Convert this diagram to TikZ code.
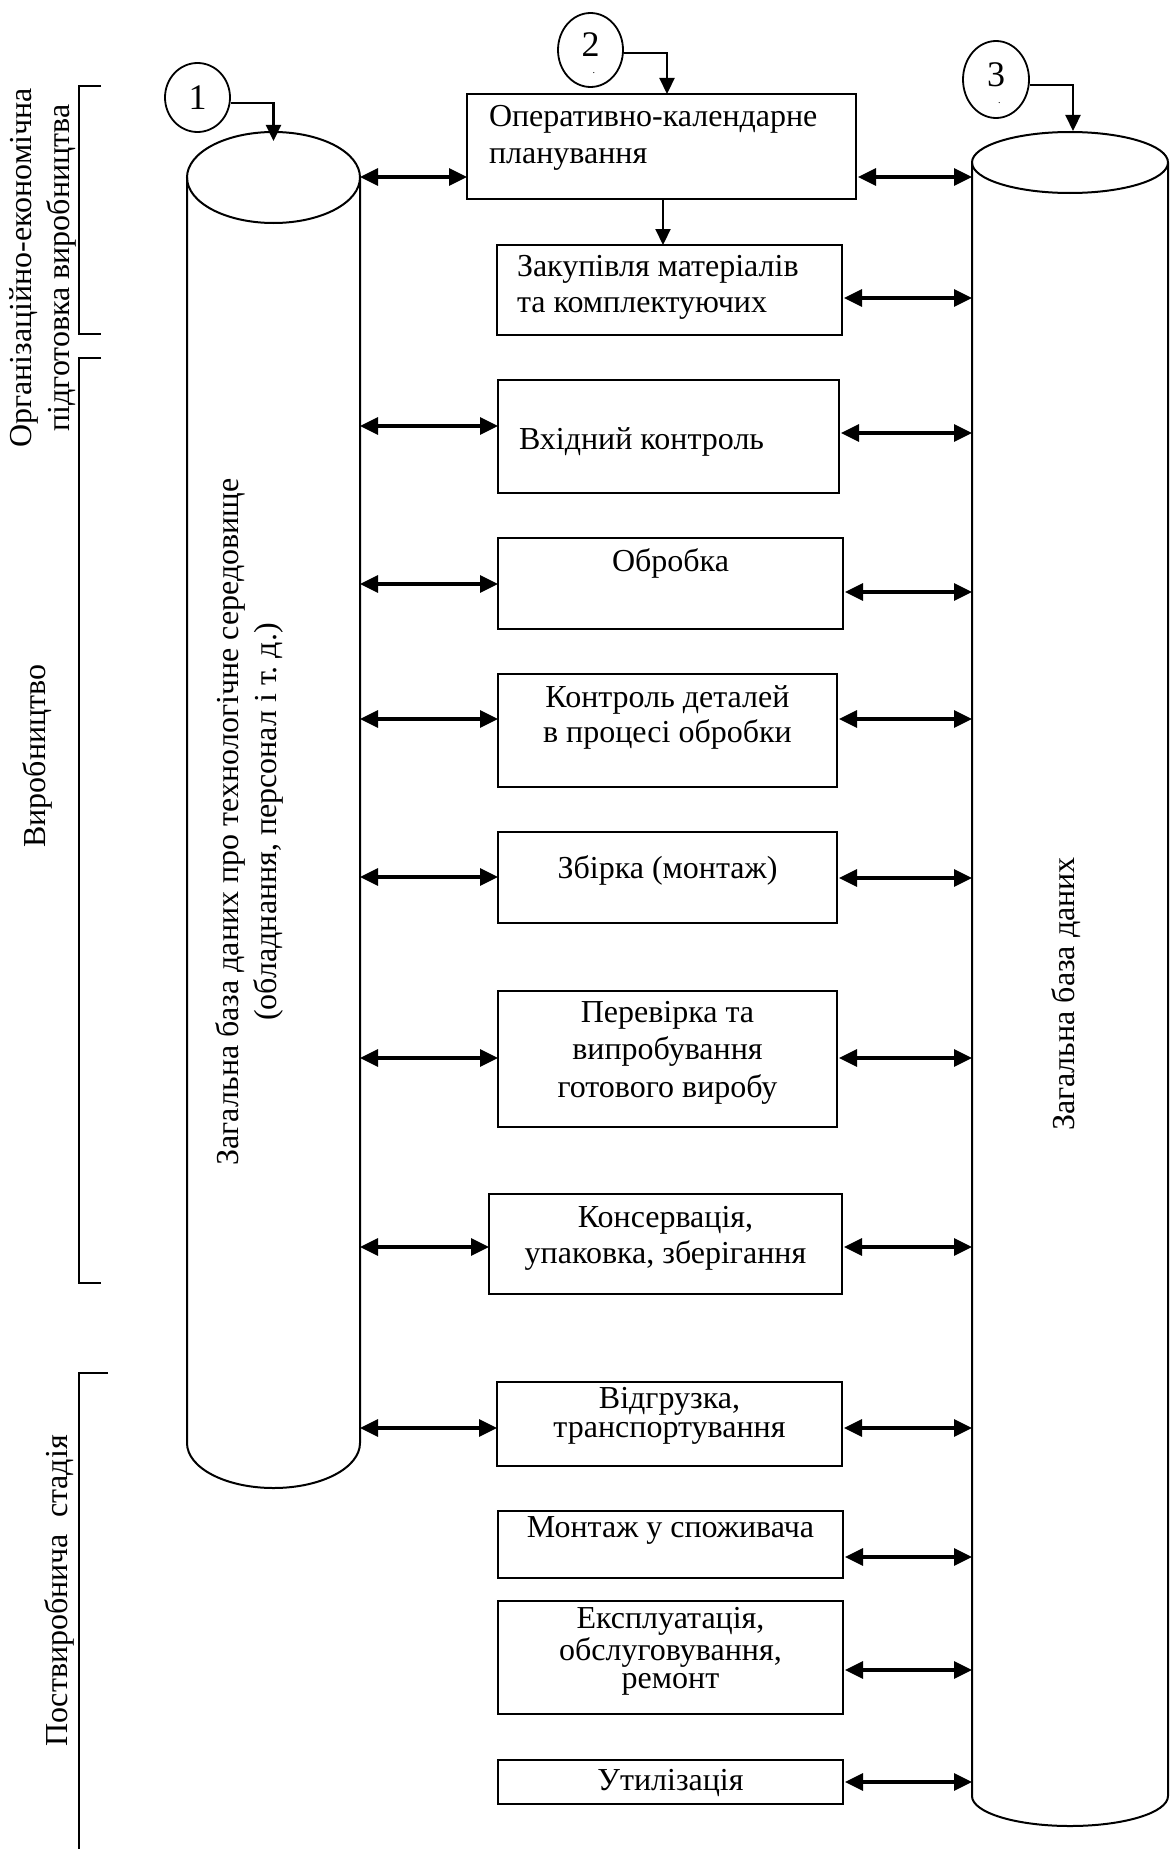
\documentclass[tikz,border=0pt]{standalone}
\usepackage{fontspec}
\setmainfont{Liberation Serif}
\usetikzlibrary{arrows.meta,shapes.geometric}
\frenchspacing

% width, height, gap above the first line, baselineskip, content
\newcommand{\cellbox}[5]{%
  \parbox[c][#2][t]{#1}{\fontsize{32}{#4}\selectfont\vspace*{#3}#5}}

\tikzset{
  procbox/.style={draw, line width=2.2pt, inner sep=0pt, outer sep=0pt, anchor=north west},
  circ/.style={draw, ellipse, line width=1.8pt, inner sep=0pt, font=\fontsize{36}{40}\selectfont},
  cyl/.style={line width=2pt},
  brk/.style={line width=2pt},
  lbl/.style={inner sep=0pt, font=\fontsize{32}{38}\selectfont},
  dbl/.style={line width=3.2pt, {Triangle[length=18pt,width=17pt]}-{Triangle[length=18pt,width=17pt]}},
  arr/.style={line width=2.2pt, -{Triangle[length=16pt,width=15pt]}},
}

\begin{document}
\begin{tikzpicture}[x=1pt,y=1pt]
\useasboundingbox (0,0) rectangle (1170,-1849);

% left database cylinder
\draw[cyl] (273.5,-177.5) ellipse [x radius=86.5pt, y radius=45.5pt];
\draw[cyl] (187,-177.5) -- (187,-1443)
  arc[start angle=180, end angle=360, x radius=86.5pt, y radius=45pt] -- (360,-177.5);
\coordinate (c1R) at (360,-177.5);
\coordinate (t1) at (273.5,-141);

% right database cylinder
\draw[cyl] (1070,-162.5) ellipse [x radius=98pt, y radius=30.5pt];
\draw[cyl] (972,-162.5) -- (972,-1796)
  arc[start angle=180, end angle=360, x radius=98pt, y radius=30pt] -- (1168,-162.5);
\coordinate (c3L) at (972,-162.5);
\coordinate (t3) at (1073,-131);

% stage brackets
\draw[brk] (101,-86) -- (79,-86) -- (79,-334) -- (101,-334);
\draw[brk] (101,-358) -- (79,-358) -- (79,-1283) -- (101,-1283);
\draw[brk] (108,-1373) -- (79,-1373) -- (79,-1849);

% stage labels
\node[lbl, rotate=90, align=center] (stage1) at (43,-268)
  {Організаційно-економічна\\підготовка виробництва};
\node[lbl, rotate=90] (stage2) at (37,-756) {Виробництво};
\node[lbl, rotate=90] (stage3) at (59,-1591) {Поствиробнича~~стадія};

% database captions
\node[lbl, rotate=90, align=center] (db1) at (249,-822)
  {Загальна база даних про технологічне середовище\\(обладнання, персонал і т. д.)};
\node[lbl, rotate=90] (db3) at (1066,-994) {Загальна база даних};

% numbered markers
\node[circ, minimum width=65pt, minimum height=69pt] (n1) at (197.5,-97.5) {1};
\node[circ, minimum width=65pt, minimum height=74pt, text depth=10pt] (n2) at (590.5,-50)
  {2\rlap{\hspace*{-7pt}\smash{\raisebox{-17pt}{\fontsize{10}{10}\selectfont .}}}};
\node[circ, minimum width=66pt, minimum height=77pt, text depth=9pt] (n3) at (996,-79.5)
  {3\rlap{\hspace*{-7pt}\smash{\raisebox{-17pt}{\fontsize{10}{10}\selectfont .}}}};

% process boxes
\node[procbox] (b1) at (467,-94) {\cellbox{389pt}{105pt}{7.8pt}{36pt}%
  {\raggedright\hspace*{22pt}\strut Оперативно-календарне\\\hspace*{22pt}\strut планування}};
\node[procbox] (b2) at (497,-245) {\cellbox{345pt}{90pt}{5.8pt}{36pt}%
  {\raggedright\hspace*{20pt}\strut Закупівля матеріалів\\\hspace*{20pt}\strut та комплектуючих}};
\node[procbox] (b3) at (498,-380) {\cellbox{341pt}{113pt}{43.8pt}{36pt}%
  {\raggedright\hspace*{21pt}\strut Вхідний контроль}};
\node[procbox] (b4) at (498,-538) {\cellbox{345pt}{91pt}{7.8pt}{36pt}%
  {\centering\strut Обробка}};
\node[procbox] (b5) at (498,-674) {\cellbox{339pt}{113pt}{8.5pt}{35pt}%
  {\centering\strut Контроль деталей\\\strut в процесі обробки}};
\node[procbox] (b6) at (498,-832) {\cellbox{339pt}{91pt}{20.8pt}{36pt}%
  {\centering\strut Збірка (монтаж)}};
\node[procbox] (b7) at (498,-991) {\cellbox{339pt}{136pt}{4.75pt}{37.5pt}%
  {\centering\strut Перевірка та\\\strut випробування\\\strut готового виробу}};
\node[procbox] (b8) at (489,-1194) {\cellbox{353pt}{100pt}{7.8pt}{36pt}%
  {\centering\strut Консервація,\\\strut упаковка, зберігання}};
\node[procbox] (b9) at (497,-1382) {\cellbox{345pt}{84pt}{4.8pt}{29pt}%
  {\centering\strut Відгрузка,\\\strut транспортування}};
\node[procbox] (b10) at (498,-1511) {\cellbox{345pt}{67pt}{0.8pt}{36pt}%
  {\centering\strut Монтаж у споживача}};
\node[procbox] (b11) at (498,-1601) {\cellbox{345pt}{113pt}{5.8pt}{28.5pt}%
  {\centering\strut Експлуатація,\\\strut обслуговування,\\\strut ремонт}};
\node[procbox] (b12) at (498,-1760) {\cellbox{345pt}{44pt}{4.8pt}{36pt}%
  {\centering\strut Утилізація}};

% marker connectors
\draw[arr] ([yshift=-5.5pt]n1.east) -| (t1);
\draw[arr] ([yshift=-3pt]n2.east) -| ([xshift=5.5pt]b1.north);
\draw[arr] ([yshift=-5.5pt]n3.east) -| (t3);
\coordinate (d1) at ([xshift=1.5pt]b1.south);
\draw[arr] (d1) -- (d1 |- b2.north);

% row anchors on the box sides
\coordinate (L1) at ([yshift=-83pt]b1.north west);
\coordinate (R1) at ([yshift=-83pt]b1.north east);
\coordinate (R2) at ([yshift=-53pt]b2.north east);
\coordinate (L3) at ([yshift=-46pt]b3.north west);
\coordinate (R3) at ([yshift=-53pt]b3.north east);
\coordinate (L4) at ([yshift=-46pt]b4.north west);
\coordinate (R4) at ([yshift=-54pt]b4.north east);
\coordinate (L5) at ([yshift=-45pt]b5.north west);
\coordinate (R5) at ([yshift=-45pt]b5.north east);
\coordinate (L6) at ([yshift=-45pt]b6.north west);
\coordinate (R6) at ([yshift=-46pt]b6.north east);
\coordinate (L7) at ([yshift=-67pt]b7.north west);
\coordinate (R7) at ([yshift=-67pt]b7.north east);
\coordinate (L8) at ([yshift=-53pt]b8.north west);
\coordinate (R8) at ([yshift=-53pt]b8.north east);
\coordinate (L9) at ([yshift=-46pt]b9.north west);
\coordinate (R9) at ([yshift=-46pt]b9.north east);
\coordinate (R10) at ([yshift=-46pt]b10.north east);
\coordinate (R11) at ([yshift=-69pt]b11.north east);
\coordinate (R12) at ([yshift=-22pt]b12.north east);

% links to the left database
\foreach \r in {1,3,4,5,6,7,8,9}
  \draw[dbl] (c1R |- L\r) -- (L\r);

% links to the right database
\foreach \r in {1,2,3,4,5,6,7,8,9,10,11,12}
  \draw[dbl] ([xshift=2pt]R\r) -- (c3L |- R\r);
\end{tikzpicture}
\end{document}
